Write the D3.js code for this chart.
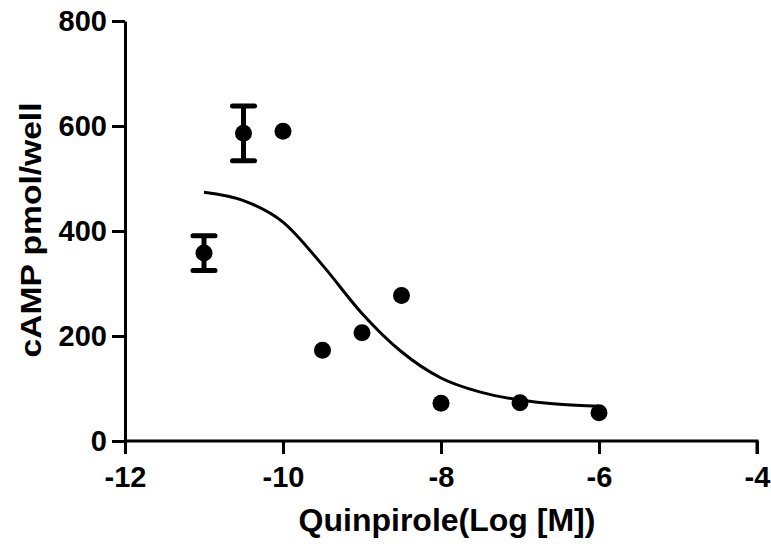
<!DOCTYPE html>
<html>

<head>
    <meta charset="utf-8">
    <style>
        body {
            margin: 0;
            background: white;
        }

        svg {
            display: block;
            font-family: 'Liberation Sans', Arial, Helvetica, sans-serif;
            font-weight: bold;
        }
    </style>
</head>

<body>
    <svg width="771" height="544"></svg>

    <script src="https://d3js.org/d3.v7.min.js"></script>
    <script>

        // measured points (log M, pmol/well) and SEM where shown
        let logDose = [-11, -10.5, -10, -9.5, -9, -8.5, -8, -7, -6]
        let camp = [358, 586, 590, 173, 206, 277, 72, 73, 54]
        let sem = [33, 52, 0, 0, 0, 0, 0, 0, 0]

        // fitted curve
        let curveX = [-11, -10.5, -10, -9.5, -9, -8.5, -8, -7.5, -7, -6.5, -6]
        let curveY = [474, 458, 417, 335, 243, 170, 120, 93, 78, 70, 66]

        let xTicks = [-12, -10, -8, -6, -4]
        let yTicks = [0, 200, 400, 600, 800]

        let svg = d3.select("svg")

        let x = d3.scaleLinear()
            .domain([-12, -4])
            .range([125, 757])

        let y = d3.scaleLinear()
            .domain([0, 800])
            .range([441, 21])

        // axes
        let xAxis = svg.append("g")
            .attr("transform", "translate(0,441)")
            .call(d3.axisBottom(x).tickValues(xTicks).tickSize(13).tickPadding(12))

        let yAxis = svg.append("g")
            .attr("transform", "translate(125,0)")
            .call(d3.axisLeft(y).tickValues(yTicks).tickSize(13).tickPadding(5).tickSizeOuter(0))

        svg.selectAll(".domain")
            .style("stroke", "#000")
            .style("stroke-width", 3)

        svg.selectAll(".tick line")
            .style("stroke", "#000")
            .style("stroke-width", 3)

        svg.selectAll(".tick text")
            .attr("font-size", null)
            .attr("font-family", null)
            .style("font-size", "29px")
            .style("font-weight", "bold")
            .style("fill", "#000")

        xAxis.selectAll(".domain")
            .attr("d", "M" + x(-12) + ",0H" + x(-4) + "V13")

        xAxis.selectAll(".tick text")
            .text(d => d < 0 ? "-" + Math.abs(d) : d)

        // fitted curve
        let line = d3.line()
            .x(d => x(d[0]))
            .y(d => y(d[1]))
            .curve(d3.curveMonotoneX)

        svg.append("path")
            .datum(d3.zip(curveX, curveY))
            .attr("d", line)
            .style("fill", "none")
            .style("stroke", "#000")
            .style("stroke-width", 3)

        let pts = logDose.map((d, i) => ({ x: d, y: camp[i], e: sem[i] }))

        // error bars
        let bars = svg.selectAll(".err")
            .data(pts.filter(d => d.e > 0))
            .join("g")
            .attr("class", "err")

        bars.append("line")
            .attr("x1", d => x(d.x))
            .attr("x2", d => x(d.x))
            .attr("y1", d => y(d.y - d.e))
            .attr("y2", d => y(d.y + d.e))
            .style("stroke", "#000")
            .style("stroke-width", 5)

        bars.selectAll(".cap")
            .data(d => [d.y - d.e, d.y + d.e].map(v => ({ x: d.x, v: v })))
            .join("line")
            .attr("class", "cap")
            .attr("x1", d => x(d.x) - 11)
            .attr("x2", d => x(d.x) + 11)
            .attr("y1", d => y(d.v))
            .attr("y2", d => y(d.v))
            .style("stroke", "#000")
            .style("stroke-width", 5)
            .style("stroke-linecap", "round")

        svg.selectAll(".dot")
            .data(pts)
            .join("circle")
            .attr("class", "dot")
            .attr("cx", d => x(d.x))
            .attr("cy", d => y(d.y))
            .attr("r", 8.5)
            .style("fill", "#000")

        // axis titles
        svg.append("text")
            .attr("x", 447)
            .attr("y", 531)
            .attr("text-anchor", "middle")
            .style("font-size", "32px")
            .text("Quinpirole(Log [M])")

        svg.append("text")
            .attr("transform", "translate(41,230) rotate(-90)")
            .attr("text-anchor", "middle")
            .attr("textLength", 255)
            .attr("lengthAdjust", "spacingAndGlyphs")
            .style("font-size", "29px")
            .text("cAMP pmol/well")

    </script>
</body>

</html>
